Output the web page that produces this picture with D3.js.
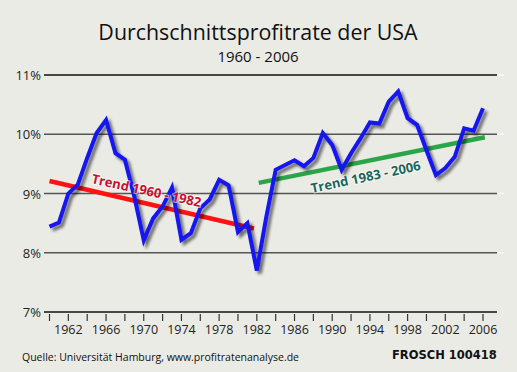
<!DOCTYPE html>
<html>
<head>
<meta charset="utf-8">
<script src="https://cdn.jsdelivr.net/npm/d3@7"></script>
<style>
  body { margin: 0; background: #ebebe6; }
  svg { display: block; }
</style>
</head>
<body>
<div class="svg-container"></div>
<script>
// Werte
const years = [1960, 1961, 1962, 1963, 1964, 1965, 1966, 1967, 1968, 1969,
  1970, 1971, 1972, 1973, 1974, 1975, 1976, 1977, 1978, 1979,
  1980, 1981, 1982, 1983, 1984, 1985, 1986, 1987, 1988, 1989,
  1990, 1991, 1992, 1993, 1994, 1995, 1996, 1997, 1998, 1999,
  2000, 2001, 2002, 2003, 2004, 2005, 2006];
const profitRate = [8.44, 8.51, 9.0, 9.15, 9.6, 10.02, 10.24, 9.68, 9.57, 8.95,
  8.21, 8.58, 8.78, 9.1, 8.22, 8.33, 8.75, 8.9, 9.23, 9.14,
  8.35, 8.5, 7.7, 8.6, 9.4, 9.48, 9.56, 9.46, 9.6, 10.02,
  9.82, 9.4, 9.68, 9.93, 10.2, 10.18, 10.55, 10.72, 10.27, 10.16,
  9.73, 9.31, 9.43, 9.62, 10.1, 10.06, 10.44];

const trend1Years = [1960, 1981.7];
const trend1Values = [9.21, 8.41];
const trend2Years = [1982.2, 2006.2];
const trend2Values = [9.18, 9.95];

const yTicks = [7, 8, 9, 10, 11];
const xTicks = d3.range(1960, 2007, 2);
const xLabels = d3.range(1962, 2007, 4);

const width = 517;
const height = 372;

const svg = d3.select('.svg-container')
  .append('svg')
  .attr('width', width)
  .attr('height', height);

svg.append('rect')
  .attr('width', width)
  .attr('height', height)
  .attr('fill', '#ebebe6');

const x = d3.scaleLinear().domain([1960, 2006]).range([49.5, 483]);
const y = d3.scaleLinear().domain([7, 11]).range([312, 75]);

// Schatten für die Linie
const defs = svg.append('defs');
const shadow = defs.append('filter')
  .attr('id', 'shadow')
  .attr('x', '-10%').attr('y', '-10%')
  .attr('width', '120%').attr('height', '120%');
shadow.append('feGaussianBlur').attr('in', 'SourceAlpha').attr('stdDeviation', 1.8).attr('result', 'blur');
shadow.append('feOffset').attr('in', 'blur').attr('dx', 3).attr('dy', 3).attr('result', 'off');
shadow.append('feComponentTransfer').attr('in', 'off').attr('result', 'soft')
  .append('feFuncA').attr('type', 'linear').attr('slope', 0.55);
const merge = shadow.append('feMerge');
merge.append('feMergeNode').attr('in', 'soft');
merge.append('feMergeNode').attr('in', 'SourceGraphic');

// Titel
svg.append('text')
  .attr('x', 258)
  .attr('y', 40)
  .attr('text-anchor', 'middle')
  .attr('font-family', 'Open Sans')
  .attr('font-size', 21.4)
  .attr('fill', '#111')
  .text('Durchschnittsprofitrate der USA');

svg.append('text')
  .attr('x', 258)
  .attr('y', 62)
  .attr('text-anchor', 'middle')
  .attr('font-family', 'Open Sans')
  .attr('font-size', 15)
  .attr('fill', '#111')
  .text('1960 - 2006');

// Gitterlinien
const grid = svg.append('g');
grid.selectAll('line')
  .data(yTicks)
  .enter().append('line')
  .attr('x1', 44)
  .attr('x2', 497)
  .attr('y1', d => y(d))
  .attr('y2', d => y(d))
  .attr('stroke', d => d === 11 || d === 7 ? '#111' : '#555')
  .attr('stroke-width', d => d === 7 ? 1.6 : 1.3);

grid.selectAll('line.end')
  .data(yTicks.slice(1))
  .enter().append('line')
  .attr('class', 'end')
  .attr('x1', 498)
  .attr('x2', 504)
  .attr('y1', d => y(d))
  .attr('y2', d => y(d))
  .attr('stroke', '#fafaf8')
  .attr('stroke-width', 1.3);

svg.selectAll('text.ylabel')
  .data(yTicks)
  .enter().append('text')
  .attr('class', 'ylabel')
  .attr('x', 41)
  .attr('y', d => y(d) + 5)
  .attr('text-anchor', 'end')
  .attr('font-family', 'Open Sans')
  .attr('font-size', 13)
  .attr('fill', '#222')
  .text(d => d + '%');

// x-Achse
const xAxis = svg.append('g');
xAxis.selectAll('line')
  .data(xTicks)
  .enter().append('line')
  .attr('x1', d => x(d))
  .attr('x2', d => x(d))
  .attr('y1', 314)
  .attr('y2', 321)
  .attr('stroke', '#333')
  .attr('stroke-width', 1.2);

xAxis.selectAll('text')
  .data(xLabels)
  .enter().append('text')
  .attr('x', d => x(d))
  .attr('y', 334)
  .attr('text-anchor', 'middle')
  .attr('font-family', 'Open Sans')
  .attr('font-size', 12.5)
  .attr('fill', '#222')
  .text(d => d);

// Trendlinien
const trendLine = d3.line().x(d => x(d[0])).y(d => y(d[1]));

svg.append('path')
  .attr('d', trendLine(d3.zip(trend1Years, trend1Values)))
  .attr('stroke', '#ff1212')
  .attr('stroke-width', 4.5)
  .attr('fill', 'none');

svg.append('path')
  .attr('d', trendLine(d3.zip(trend2Years, trend2Values)))
  .attr('stroke', '#2aa548')
  .attr('stroke-width', 4.5)
  .attr('fill', 'none');

// Profitrate
svg.append('path')
  .datum(d3.zip(years, profitRate))
  .attr('d', d3.line().x(d => x(d[0])).y(d => y(d[1])))
  .attr('stroke', '#1414f0')
  .attr('stroke-width', 4)
  .attr('stroke-linejoin', 'miter')
  .attr('fill', 'none')
  .attr('filter', 'url(#shadow)');

// Beschriftung der Trends
function trendLabel(txt, px, py, angle, color) {
  svg.append('text')
    .attr('transform', `translate(${px},${py}) rotate(${angle})`)
    .attr('font-family', 'Open Sans')
    .attr('font-weight', 'bold')
    .attr('font-size', 13)
    .attr('fill', color)
    .attr('stroke', 'rgba(255,255,255,0.6)')
    .attr('stroke-width', 2)
    .attr('paint-order', 'stroke')
    .text(txt);
}
trendLabel('Trend 1960 - 1982', 91, 183, 12.5, '#c8102e');
trendLabel('Trend 1983 - 2006', 312, 193, -12, '#17665a');

// Fußzeile
svg.append('text')
  .attr('x', 22)
  .attr('y', 361)
  .attr('font-family', 'Open Sans')
  .attr('font-size', 10.5)
  .attr('fill', '#111')
  .text('Quelle: Universität Hamburg, www.profitratenanalyse.de');

svg.append('text')
  .attr('x', 392)
  .attr('y', 359)
  .attr('font-family', 'DejaVu Sans')
  .attr('font-weight', 'bold')
  .attr('font-size', 11.5)
  .attr('fill', '#111')
  .text('FROSCH 100418');
</script>
</body>
</html>
